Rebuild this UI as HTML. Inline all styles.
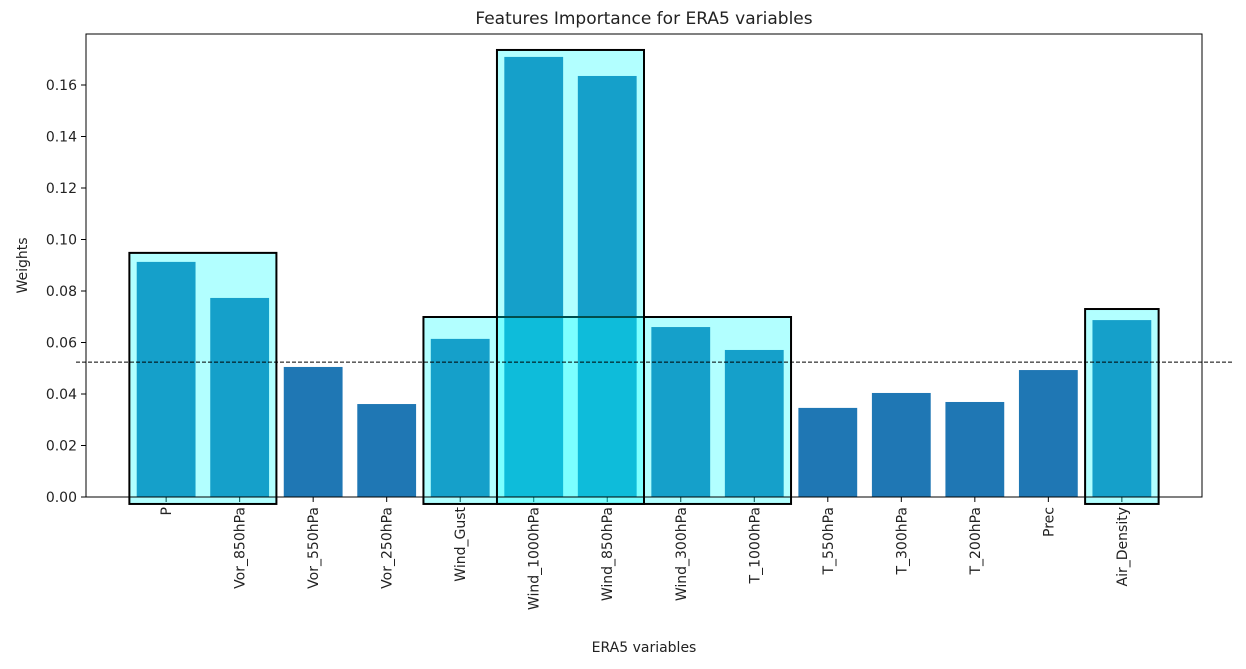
<!DOCTYPE html>
<html><head><meta charset="utf-8"><style>
body{margin:0;background:#fff;}
svg text{font-family:"DejaVu Sans","Liberation Sans",sans-serif;fill:#222;}
</style></head><body>
<svg id="chart" width="1246" height="664" xmlns="http://www.w3.org/2000/svg"></svg>
<script>
const categories=["P","Vor_850hPa","Vor_550hPa","Vor_250hPa","Wind_Gust","Wind_1000hPa","Wind_850hPa","Wind_300hPa","T_1000hPa","T_550hPa","T_300hPa","T_200hPa","Prec","Air_Density"];
const weights=[0.0913,0.0773,0.0505,0.0361,0.0614,0.1709,0.1635,0.0660,0.0571,0.0346,0.0404,0.0369,0.0493,0.0687];
const yTicks=[0,0.02,0.04,0.06,0.08,0.10,0.12,0.14,0.16];
const groupStart=[0,4,5,13];
const groupEnd=[1,8,6,13];
const groupTop=[0.0948,0.0699,0.1736,0.0730];
const threshold=0.0524;

const svg=document.getElementById('chart');
const NS='http://www.w3.org/2000/svg';
const L=86,R=1202,T=34,B=497;
const xmin=-1.09,xmax=categories.length-1+1.09,ymin=0,ymax=0.1798;
const xs=v=>L+(v-xmin)/(xmax-xmin)*(R-L);
const ys=v=>B-(v-ymin)/(ymax-ymin)*(B-T);
function el(tag,attrs,parent){const e=document.createElementNS(NS,tag);for(const k in attrs)e.setAttribute(k,attrs[k]);(parent||svg).appendChild(e);return e;}

const bars=el('g',{});


weights.forEach((w,i)=>{
  const r=el('rect',{x:xs(i-0.4),y:ys(w),width:xs(i+0.4)-xs(i-0.4),height:ys(0)-ys(w),fill:'#1f77b4'},bars);
  
  
});
yTicks.forEach(t=>{
  el('line',{x1:L-5,x2:L,y1:ys(t),y2:ys(t),stroke:'#000','stroke-width':1});
  const tx=el('text',{x:L-9,y:ys(t)+5,'text-anchor':'end','font-size':14});
  tx.textContent=t.toFixed(2);
  
  
});
categories.forEach((c,i)=>{
  el('line',{x1:xs(i),x2:xs(i),y1:B,y2:B+5,stroke:'#000','stroke-width':1});
  const tx=el('text',{x:0,y:0,'text-anchor':'end','font-size':14,transform:`translate(${xs(i)+5},${B+10}) rotate(-90)`});
  tx.textContent=c;
  
  
});
groupStart.forEach((s,k)=>{
  const e=groupEnd[k];
  const x0=xs(s-0.5),x1=xs(e+0.5);
  const r=el('rect',{x:x0,y:ys(groupTop[k]),width:x1-x0,height:ys(-0.0027)-ys(groupTop[k]),fill:'rgba(0,255,255,0.3)',stroke:'#000','stroke-width':2});
  
  
});
const th=el('line',{x1:L-10,x2:R+30,y1:ys(threshold),y2:ys(threshold),stroke:'#000','stroke-width':1,'stroke-dasharray':'4,2'});


const ax=el('rect',{x:L,y:T,width:R-L,height:B-T,fill:'none',stroke:'#000','stroke-width':1});


const title=el('text',{x:(L+R)/2,y:24,'text-anchor':'middle','font-size':17});
title.textContent='Features Importance for ERA5 variables';


const xt=el('text',{x:(L+R)/2,y:652,'text-anchor':'middle','font-size':14});
xt.textContent='ERA5 variables';


const yt=el('text',{x:0,y:0,'text-anchor':'middle','font-size':14,transform:`translate(27,${(T+B)/2}) rotate(-90)`});
yt.textContent='Weights';


</script>
</body></html>
